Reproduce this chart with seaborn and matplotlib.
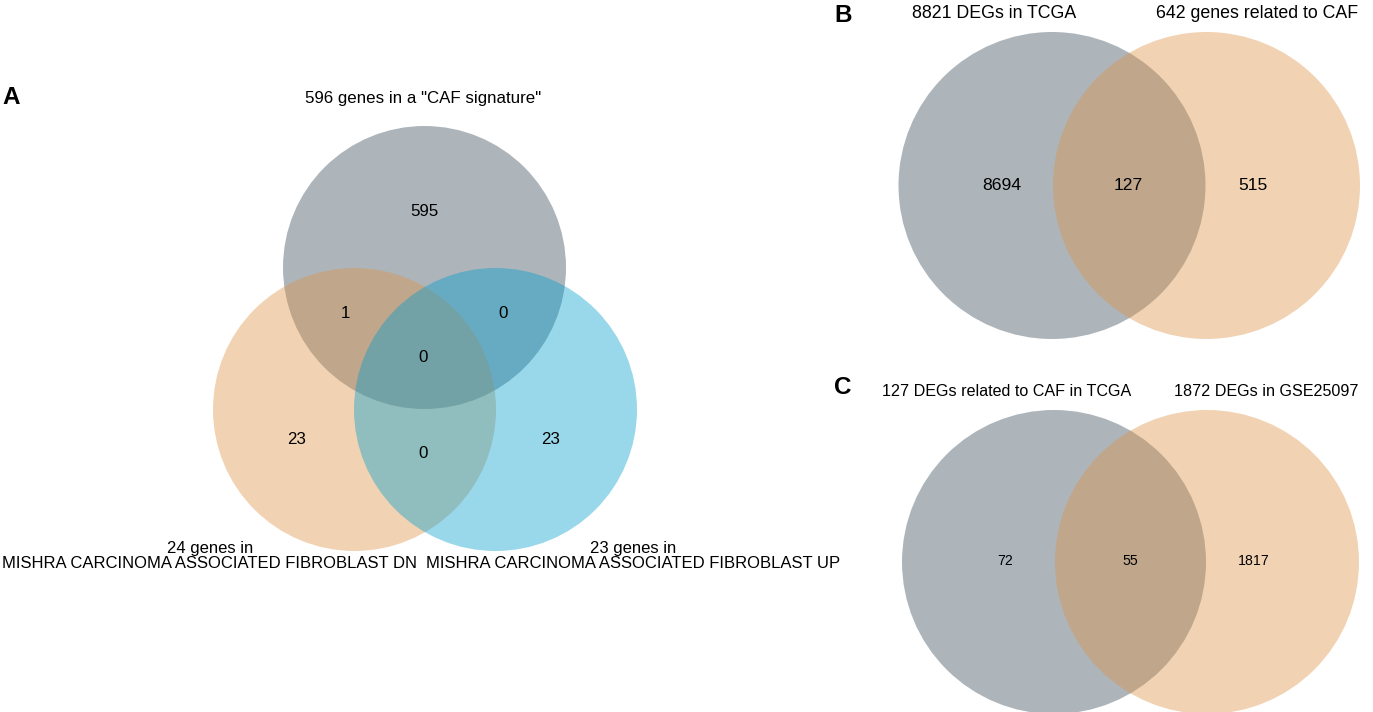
import matplotlib
matplotlib.use("Agg")
import matplotlib.pyplot as plt
from matplotlib.patches import Circle
import seaborn as sns

# ---- data -------------------------------------------------------------
# panel A: three-set venn (top, left, right)
a_set_labels = ['596 genes in a "CAF signature"',
                '24 genes in\nMISHRA CARCINOMA ASSOCIATED FIBROBLAST DN',
                '23 genes in\nMISHRA CARCINOMA ASSOCIATED FIBROBLAST UP']
a_region_names = ["top", "left", "right", "top_left", "top_right", "left_right", "all"]
a_region_counts = [595, 23, 23, 1, 0, 0, 0]

# panel B: two-set venn
b_set_labels = ["8821 DEGs in TCGA", "642 genes related to CAF"]
b_region_counts = [8694, 127, 515]   # left only, both, right only

# panel C: two-set venn
c_set_labels = ["127 DEGs related to CAF in TCGA", "1872 DEGs in GSE25097"]
c_region_counts = [72, 55, 1817]

panel_letters = ["A", "B", "C"]

# ---- style ------------------------------------------------------------
sns.set_style("white")
plt.rcParams["font.family"] = ["Liberation Sans", "DejaVu Sans"]
plt.rcParams["text.color"] = "black"

gray = (52 / 255, 72 / 255, 85 / 255)
orange = (222 / 255, 145 / 255, 67 / 255)
blue = (0 / 255, 157 / 255, 207 / 255)
ALPHA = 0.4

W, H = 1373, 712
fig = plt.figure(figsize=(W / 100, H / 100), dpi=100)
ax = fig.add_axes([0, 0, 1, 1])
ax.set_xlim(0, W)
ax.set_ylim(H, 0)
ax.axis("off")


def circle(cx, cy, r, color):
    ax.add_patch(Circle((cx, cy), r, facecolor=color, edgecolor="none", alpha=ALPHA))


# ---- panel A ----------------------------------------------------------
r_a = 141.5
circle(424.5, 267.5, r_a, gray)
circle(354.5, 409.5, r_a, orange)
circle(495.5, 409.5, r_a, blue)

a_pos = {"top": (424, 212), "left": (297, 439), "right": (551, 439),
         "top_left": (345, 313), "top_right": (503, 313),
         "left_right": (423, 454), "all": (423, 357)}
for name, n in zip(a_region_names, a_region_counts):
    x, y = a_pos[name]
    ax.text(x, y, str(n), ha="center", va="center", fontsize=12.2)

ax.text(423, 98, a_set_labels[0], ha="center", va="center", fontsize=12.2)
ax.text(210, 556, a_set_labels[1], ha="center", va="center", fontsize=12,
        multialignment="center", linespacing=1.0)
ax.text(633, 556, a_set_labels[2], ha="center", va="center", fontsize=12,
        multialignment="center", linespacing=1.0)

# ---- panel B ----------------------------------------------------------
r_b = 153.5
circle(1052, 185.5, r_b, gray)
circle(1206.5, 185.5, r_b, orange)
for (x, y), n in zip([(1002, 185), (1128, 185), (1253, 185)], b_region_counts):
    ax.text(x, y, str(n), ha="center", va="center", fontsize=12.6)
ax.text(994, 13, b_set_labels[0], ha="center", va="center", fontsize=12.8)
ax.text(1257, 13, b_set_labels[1], ha="center", va="center", fontsize=12.8)

# ---- panel C ----------------------------------------------------------
r_c = 152
circle(1054, 562, r_c, gray)
circle(1207, 562, r_c, orange)
for (x, y), n in zip([(1005, 561), (1130, 561), (1254, 561)], c_region_counts):
    ax.text(x, y, str(n), ha="center", va="center", fontsize=10.2)
ax.text(1007, 392, c_set_labels[0], ha="center", va="center", fontsize=11.6)
ax.text(1266, 392, c_set_labels[1], ha="center", va="center", fontsize=11.6)

# ---- panel letters ----------------------------------------------------
for (x, y), letter in zip([(11, 98), (843, 15), (843, 388)], panel_letters):
    ax.text(x, y, letter, ha="center", va="center", fontsize=17.5, fontweight="bold")

fig.savefig("out.png", dpi=100)
